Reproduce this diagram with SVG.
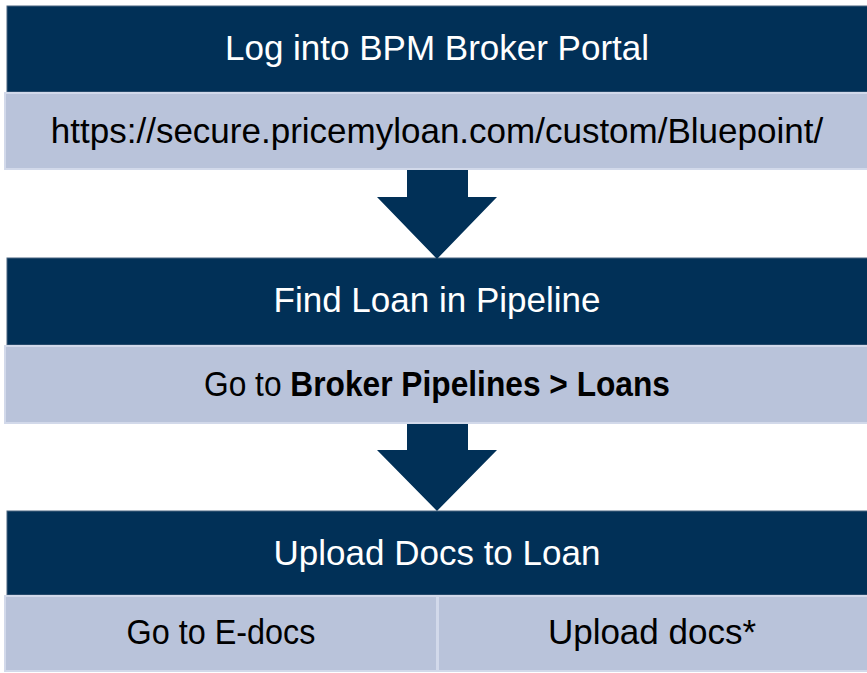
<svg xmlns="http://www.w3.org/2000/svg" width="867" height="673" viewBox="0 0 867 673">
<style>
.dark{fill:#013057;stroke:#4a6580;stroke-width:1}
.light{fill:#b9c3da;stroke:#d2d9ea;stroke-width:2}
.arrow{fill:#013057}
text{font-family:"Liberation Sans",Arial,sans-serif;font-size:35px;text-anchor:middle}
.w{fill:#ffffff}
.k{fill:#000000}
</style>
<rect x="0" y="0" width="867" height="673" fill="#ffffff"/>
<g id="step1">
<rect class="dark" x="7" y="6" width="862" height="86"/>
<text class="w" x="437" y="60">Log into BPM Broker Portal</text>
</g>
<g id="step1-detail">
<rect class="light" x="5" y="93" width="864" height="76"/>
<text class="k" x="437" y="143">https://secure.pricemyloan.com/custom/Bluepoint/</text>
</g>
<g id="step2">
<rect class="dark" x="7" y="258" width="862" height="87"/>
<text class="w" x="437" y="312">Find Loan in Pipeline</text>
</g>
<g id="step2-detail">
<rect class="light" x="5" y="346" width="864" height="77"/>
<text class="k" x="437" y="396" textLength="466" lengthAdjust="spacingAndGlyphs">Go to <tspan font-weight="bold">Broker Pipelines &gt; Loans</tspan></text>
</g>
<g id="step3">
<rect class="dark" x="7" y="511" width="862" height="84"/>
<text class="w" x="437" y="565">Upload Docs to Loan</text>
</g>
<g id="step3-edocs">
<rect class="light" x="5" y="596" width="432" height="75"/>
<text class="k" x="221" y="644" textLength="189" lengthAdjust="spacingAndGlyphs">Go to E-docs</text>
</g>
<g id="step3-upload">
<rect class="light" x="438" y="596" width="431" height="75"/>
<text class="k" x="652" y="644">Upload docs*</text>
</g>
<g id="connectors">
<polygon class="arrow" points="407,170 468,170 468,197 497,197 437,259 377,197 407,197"/>
<polygon class="arrow" points="407,424 468,424 468,450 497,450 437,511 377,450 407,450"/>
</g>
</svg>
